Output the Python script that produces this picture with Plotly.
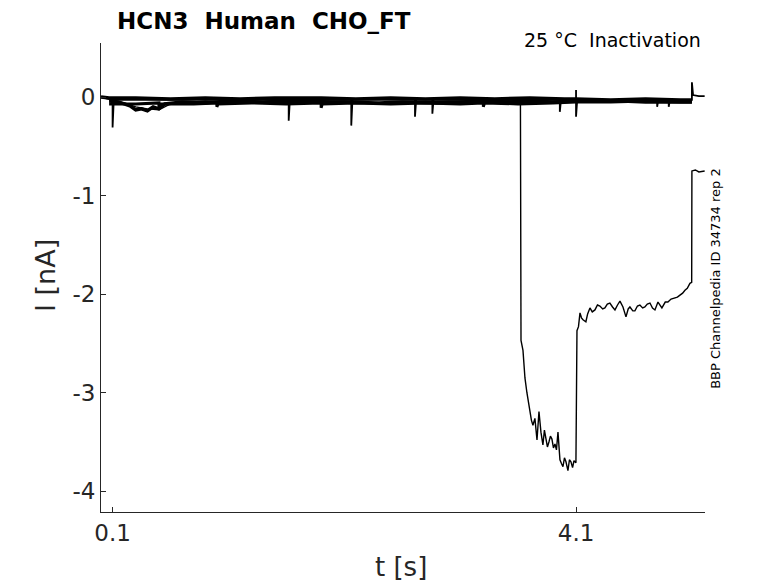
import plotly.graph_objects as go

# sweeps of the inactivation protocol
# sweep A: upper edge of the baseline band
t_a = [0.0, 0.07, 0.3, 0.6, 0.9, 1.2, 1.5, 1.9, 2.2, 2.5, 2.8, 3.1, 3.4, 3.7, 4.0, 4.1, 4.4,
       4.7, 5.0, 5.1]
i_a = [0.0, -0.01, -0.01, -0.02, -0.01, -0.02, -0.01, -0.01, -0.02, -0.01, -0.02, -0.01, -0.02,
       -0.01, -0.02, -0.02, -0.03, -0.02, -0.03, -0.03]

# sweep B: middle of band, hump near 0.4 s
t_b = [0.07, 0.15, 0.25, 0.3, 0.35, 0.4, 0.45, 0.5, 0.55, 0.7, 0.9, 1.1, 1.4, 1.7, 2.0, 2.4,
       2.6, 2.9, 3.1, 3.3, 3.5, 3.7, 3.9, 4.1, 4.3, 4.5, 4.7, 4.9, 5.1]
i_b = [-0.04, -0.05, -0.09, -0.13, -0.12, -0.14, -0.10, -0.12, -0.07, -0.05, -0.06, -0.04, -0.05,
       -0.04, -0.05, -0.06, -0.05, -0.06, -0.05, -0.04, -0.05, -0.04, -0.05, -0.04, -0.04, -0.04,
       -0.05, -0.05, -0.05]

# sweep D: lower edge of band with small dips
t_d = [0.07, 0.3, 0.5, 0.5, 0.51, 0.8, 1.0, 1.0, 1.01, 1.3, 1.6, 1.9, 1.9, 1.91, 2.2, 2.5, 2.8,
       3.1, 3.3, 3.3, 3.31, 3.6, 3.9, 4.1, 4.4, 4.7, 5.0, 5.1]
i_d = [-0.07, -0.07, -0.06, -0.11, -0.07, -0.07, -0.06, -0.10, -0.07, -0.06, -0.07, -0.06, -0.11,
       -0.07, -0.06, -0.07, -0.06, -0.07, -0.06, -0.10, -0.06, -0.07, -0.06, -0.05, -0.05, -0.04,
       -0.05, -0.05]

# sweep E: carries the sharp transients
t_e = [0.0, 0.10, 0.10, 0.11, 0.6, 1.2, 1.62, 1.62, 1.63, 2.16, 2.16, 2.17, 2.71, 2.71, 2.72,
       2.86, 2.86, 2.87, 3.4, 3.96, 3.96, 3.97, 4.1, 4.1, 4.1, 4.11, 4.5, 4.8, 4.8, 4.81, 4.9,
       4.9, 4.91, 5.0, 5.1, 5.1, 5.11, 5.16, 5.21]
i_e = [0.0, -0.03, -0.31, -0.03, -0.03, -0.03, -0.03, -0.24, -0.03, -0.03, -0.29, -0.03, -0.03,
       -0.20, -0.03, -0.03, -0.17, -0.03, -0.03, -0.03, -0.15, -0.03, -0.03, 0.07, -0.20, -0.03,
       -0.03, -0.03, -0.10, -0.03, -0.03, -0.10, -0.03, -0.03, -0.03, 0.15, 0.02, 0.01, 0.01]

# sweep C: activating sweep
t_c = [0.07, 0.2, 0.3, 0.4, 0.5, 0.6, 0.9, 1.2, 1.5, 1.8, 2.1, 2.4, 2.7, 3.0, 3.3, 3.5, 3.62,
       3.625, 3.642, 3.659, 3.676, 3.69, 3.702, 3.715, 3.728, 3.745, 3.763, 3.780, 3.797, 3.814,
       3.827, 3.840, 3.853, 3.866, 3.879, 3.892, 3.905, 3.918, 3.931, 3.944, 3.961, 3.975, 3.987,
       4.0, 4.013, 4.030, 4.043, 4.056, 4.070, 4.082, 4.099, 4.108, 4.121, 4.134, 4.147, 4.160,
       4.185, 4.200, 4.220, 4.240, 4.263, 4.285, 4.306, 4.330, 4.349, 4.370, 4.392, 4.415, 4.436,
       4.458, 4.479, 4.505, 4.531, 4.550, 4.565, 4.590, 4.608, 4.630, 4.651, 4.675, 4.694, 4.715,
       4.738, 4.760, 4.781, 4.807, 4.825, 4.841, 4.870, 4.893, 4.920, 4.953, 4.975, 4.997, 5.020,
       5.040, 5.060, 5.083, 5.098, 5.100, 5.13, 5.16, 5.19, 5.21]
i_c = [-0.03, -0.06, -0.10, -0.12, -0.13, -0.07, -0.04, -0.06, -0.04, -0.05, -0.04, -0.06, -0.05,
       -0.04, -0.05, -0.04, -0.05,
       -2.47, -2.57, -2.85, -3.00, -3.12, -3.18, -3.28, -3.33, -3.26, -3.48, -3.19, -3.40, -3.53,
       -3.38, -3.45, -3.55, -3.50, -3.44, -3.47, -3.56, -3.52, -3.58, -3.40, -3.68, -3.72, -3.75,
       -3.66, -3.70, -3.79, -3.68, -3.70, -3.76, -3.69, -3.71, -2.37, -2.33, -2.19, -2.24, -2.26,
       -2.28, -2.20, -2.14, -2.18, -2.16, -2.11, -2.12, -2.15, -2.14, -2.10, -2.09, -2.13, -2.16,
       -2.11, -2.07, -2.13, -2.23, -2.15, -2.13, -2.17, -2.17, -2.12, -2.11, -2.14, -2.13, -2.10,
       -2.09, -2.14, -2.16, -2.08, -2.12, -2.14, -2.08, -2.08, -2.05, -2.04, -2.03, -2.01, -1.99,
       -1.96, -1.94, -1.89, -1.88, -0.75, -0.74, -0.76, -0.75, -0.75]

x_ticks = [0.1, 4.1]
x_tick_text = ["0.1", "4.1"]
y_ticks = [0, -1, -2, -3, -4]
y_tick_text = ["0", "-1", "-2", "-3", "-4"]

font = "DejaVu Sans"
ink = "#262626"

fig = go.Figure()
for t, i, w in [(t_a, i_a, 3.5), (t_b, i_b, 3.5), (t_d, i_d, 3.0), (t_e, i_e, 1.8),
                (t_c, i_c, 1.4)]:
    fig.add_trace(go.Scatter(x=t, y=i, mode="lines", line=dict(color="black", width=w),
                             showlegend=False, hoverinfo="skip"))

axis_common = dict(showgrid=False, zeroline=False, showline=True, linecolor=ink, linewidth=1,
                   ticks="inside", ticklen=5, tickcolor=ink, mirror=False,
                   tickfont=dict(family=font, size=23, color=ink))
fig.update_xaxes(range=[0.0, 5.213], tickvals=x_ticks, ticktext=x_tick_text, **axis_common)
fig.update_yaxes(range=[-4.21, 0.548], tickvals=y_ticks, ticktext=y_tick_text, **axis_common)

# page body adds 8 px, so the figure is a bit smaller than the window
fig.update_layout(
    width=770, height=575,
    margin=dict(l=93, r=73, t=35, b=71),
    paper_bgcolor="white", plot_bgcolor="white",
    font=dict(family=font, color=ink),
)

fig.add_annotation(text="<b>HCN3\u00a0\u00a0Human\u00a0\u00a0CHO_FT</b>", xref="paper", yref="paper",
                   x=0.024, y=1.046, xanchor="left", yanchor="middle", showarrow=False,
                   font=dict(family=font, size=23, color="black"))
fig.add_annotation(text="25 °C\u00a0\u00a0Inactivation", xref="paper", yref="paper",
                   x=0.997, y=1.006, xanchor="right", yanchor="middle", showarrow=False,
                   font=dict(family=font, size=19, color="black"))
fig.add_annotation(text="BBP Channelpedia ID 34734 rep 2", xref="paper", yref="paper",
                   x=1.018, y=0.499, xanchor="center", yanchor="middle", textangle=-90,
                   showarrow=False, font=dict(family=font, size=13, color="black"))
fig.add_annotation(text="t [s]", xref="paper", yref="paper", x=0.496, y=-0.118,
                   xanchor="center", yanchor="middle", showarrow=False,
                   font=dict(family=font, size=26, color=ink))
fig.add_annotation(text="I [nA]", xref="paper", yref="paper", x=-0.093, y=0.505,
                   xanchor="center", yanchor="middle", textangle=-90, showarrow=False,
                   font=dict(family=font, size=27, color=ink))

fig.write_html("out.html")
